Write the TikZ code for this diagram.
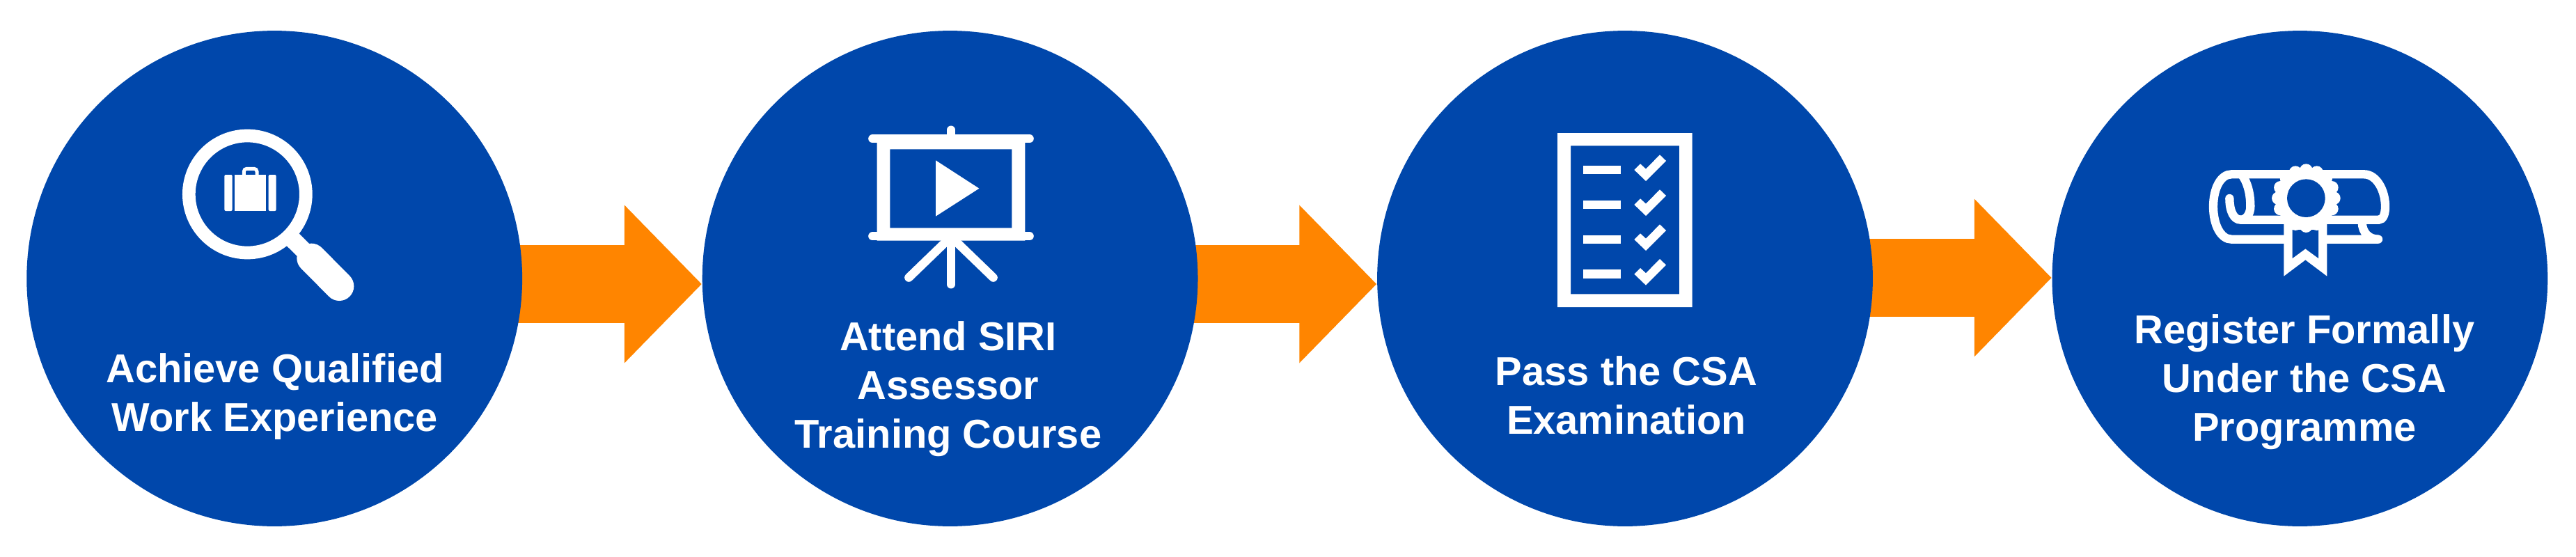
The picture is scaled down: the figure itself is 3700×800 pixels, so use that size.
\documentclass[tikz,border=0pt]{standalone}
\usepackage{fontspec}
\setmainfont{Liberation Sans}
\usetikzlibrary{arrows.meta,backgrounds}
\definecolor{stepblue}{HTML}{0047AB}
\definecolor{floworange}{HTML}{FF8500}
\tikzset{
  stepcircle/.style={circle,fill=stepblue,minimum size=7.114cm,inner sep=0pt},
  steplabel/.style={text=white,align=center,inner sep=0pt,
    font=\fontsize{16.45}{19.9}\selectfont\bfseries},
  flowarrow/.style={floworange,line width=1.12cm,shorten <=-.1cm,
    -{Triangle[length=1.11cm,width=2.2cm,sharp]}},
  iconline/.style={white,line width=.123cm,line cap=round},
}
\begin{document}
\begin{tikzpicture}[x=.01cm,y=-.01cm]
    \useasboundingbox (0,0) rectangle (3700,800);

    \node (s1) [stepcircle] at (394.2,400)  {};
    \node (s2) [stepcircle] at (1364.6,400) {};
    \node (s3) [stepcircle] at (2334,400)   {};
    \node (s4) [stepcircle] at (3303.4,400) {};

    \begin{pgfonlayer}{background}
    \foreach \from/\to/\dy in {s1/s2/8,s2/s3/8,s3/s4/-1}
      \draw[flowarrow] ([yshift=-\dy*.01cm]\from.east) -- ([yshift=-\dy*.01cm]\to.west);
    \end{pgfonlayer}

    \node (l1) [steplabel] at (395,570)  {Achieve Qualified\\Work Experience};
    \node (l2) [steplabel] at (1362,559) {Attend SIRI\\Assessor\\Training Course};
    \node (l3) [steplabel] at (2336,568) {Pass the CSA\\Examination};
    \node (l4) [steplabel] at (3310,549) {Register Formally\\Under the CSA\\Programme};

    % magnifier
    \begin{scope}[shift={(200,150)},scale=1/3]
      \draw[white,line width=.187cm] (466,387) circle (252);
      \draw[white,line width=.25cm] (640,561) -- (742,662);
      \draw[white,line width=.42cm,line cap=round] (742,662) -- (862,783);
      \fill[white,rounded corners=.02cm] (367,303) rectangle (401,459);
      \fill[white] (412,303) rectangle (546,459);
      \fill[white,rounded corners=.02cm] (557,303) rectangle (590,459);
      \draw[white,line width=.05cm,rounded corners=.04cm] (451,303) -- (451,277) -- (507,277) -- (507,303);
    \end{scope}

    % screen
    \begin{scope}[shift={(1200,150)},scale=1/3]
      \fill[white,even odd rule] (179,130) rectangle (817,587) (235,193) rectangle (760,532);
      \draw[iconline] (160,148) -- (836,148);
      \draw[iconline] (160,568) -- (836,568);
      \draw[iconline] (498,110) -- (498,130);
      \draw[iconline] (498,580) -- (498,775);
      \draw[iconline] (490,578) -- (316,746);
      \draw[iconline] (506,578) -- (680,746);
      \fill[white] (432,241) -- (432,482) -- (619,362) -- cycle;
    \end{scope}

    % checklist
    \begin{scope}[shift={(2180,150)},scale=1/3]
      \fill[white,even odd rule] (171,123) rectangle (752,873) (228,178) rectangle (696,817);
      \foreach \dy in {0,150,300,449} {
        \fill[white] (283,263+\dy) rectangle (443,301+\dy);
        \fill[white] (502,282+\dy) -- (528,256+\dy) -- (552,278+\dy) -- (612,217+\dy)
          -- (639,243+\dy) -- (552,330+\dy) -- cycle;
      }
    \end{scope}

    % diploma
    \begin{scope}[shift={(3130,200)},scale=1/3]
      \draw[iconline] (217,255) .. controls (217,310) and (235,347) .. (265,347) -- (860,347)
        .. controls (880,347) and (888,320) .. (888,290)
        .. controls (888,220) and (850,151) .. (797,151) -- (225,151)
        .. controls (180,151) and (147,210) .. (147,290)
        .. controls (147,370) and (180,431) .. (225,431) -- (858,431);
      \draw[iconline,line cap=butt] (265,347) .. controls (290,347) and (307,320) .. (307,290)
        .. controls (307,240) and (297,190) .. (270,153);
      \draw[iconline,line cap=butt] (788,360) .. controls (790,400) and (815,431) .. (858,431);
      \fill[white] (451,366) -- (451,590) -- (544,520) -- (637,590) -- (637,366) -- cycle;
      \fill[stepblue] (488,390) -- (488,513) -- (544,472) -- (600,513) -- (600,390) -- cycle;
      \fill[white] (547,254) circle (128);
      \foreach \a in {0,22.5,...,337.5}
        \fill[white] (547,254) ++(\a:120) circle (28);
      \fill[stepblue] (547,254) circle (82);
    \end{scope}
\end{tikzpicture}
\end{document}
